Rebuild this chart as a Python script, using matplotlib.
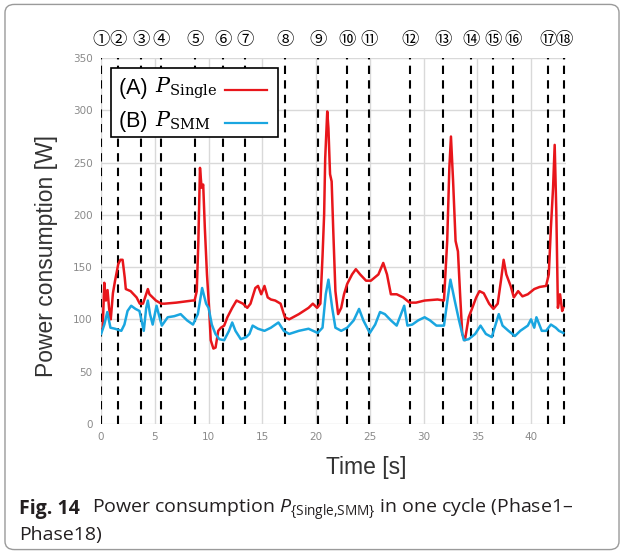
import matplotlib
matplotlib.use('Agg')
import matplotlib.pyplot as plt
from matplotlib.patches import FancyBboxPatch, Rectangle

plt.rcParams['mathtext.fontset'] = 'custom'
plt.rcParams['mathtext.rm'] = 'Open Sans'
plt.rcParams['mathtext.it'] = 'Open Sans:italic'
plt.rcParams['mathtext.bf'] = 'Open Sans:bold'

# phase boundaries [s]
phase_t = [0, 1.6, 3.7, 5.6, 8.7, 11.35, 13.37, 17.15, 20.2, 22.85, 24.95,
           28.77, 31.8, 34.42, 36.45, 38.36, 41.55, 43.06]
phase_labels = [chr(0x2460 + i) for i in range(18)]

# (A) P_Single
single_t = [0, 0.15, 0.3, 0.45, 0.6, 0.75, 0.9, 1.1, 1.3, 1.6, 1.8, 2.0, 2.2,
            2.3, 2.75, 3.3, 3.6, 3.9, 4.35, 4.5, 4.8, 5.1, 5.6, 5.9, 7.0, 8.5,
            8.7, 8.9, 9.05, 9.2, 9.35, 9.5, 9.65, 9.85, 10.05, 10.2, 10.45,
            10.65, 10.9, 11.15, 11.45, 11.75, 12.2, 12.6, 13.2, 13.6, 13.9,
            14.35, 14.6, 14.9, 15.2, 15.5, 15.8, 16.2, 16.7, 17.1, 17.5, 18.4,
            19.3, 19.7, 20.1, 20.4, 20.6, 20.75, 20.85, 21.04, 21.15, 21.3,
            21.45, 21.6, 21.8, 22.05, 22.34, 22.6, 22.9, 23.35, 23.7, 24.1,
            24.65, 25.1, 25.8, 26.25, 26.6, 26.96, 27.5, 28.1, 28.7, 29.3,
            30.1, 31.3, 31.9, 32.2, 32.4, 32.55, 32.75, 32.98, 33.2, 33.4,
            33.6, 33.85, 34.2, 34.5, 34.9, 35.2, 35.6, 36.1, 36.5, 36.9, 37.2,
            37.45, 37.7, 38.1, 38.4, 38.8, 39.2, 39.7, 40.3, 40.8, 41.4, 41.65,
            41.85, 42.05, 42.2, 42.35, 42.5, 42.7, 42.9, 43.0]
single_p = [89, 92, 135, 118, 128, 110, 100, 125, 137, 153, 157, 157, 140,
            129, 127, 121, 115, 115, 129, 124, 121, 118, 115, 115, 116, 118,
            118, 127, 175, 245, 226, 229, 188, 143, 111, 80, 72,
            73, 89, 92, 94, 102, 111, 118, 115, 111, 115,
            130, 132, 124, 132, 121, 119, 118, 115, 102, 100, 105,
            111, 115, 111, 115, 160, 200, 254, 299, 283, 239,
            232, 185, 127, 105, 111, 124, 134, 143, 148, 143,
            137, 137, 143, 154, 143, 124, 124, 121, 116, 116,
            118, 119, 118, 175, 245, 275, 232, 175, 165, 124,
            86, 80, 102, 110, 121, 127, 125, 115, 110, 115, 137,
            157, 143, 132, 121, 127, 122, 124, 129, 131, 132, 143,
            188, 226, 267, 204, 111, 124, 108, 111]

# (B) P_SMM
smm_t = [0, 0.3, 0.58, 0.87, 1.3, 1.88, 2.17, 2.46, 2.8, 3.2, 3.57, 3.97,
         4.2, 4.35, 4.55, 4.8, 5.16, 5.36, 5.65, 6.2, 6.8, 7.4, 8.0, 8.55,
         9.0, 9.4, 9.77, 10.0, 10.3, 10.64, 11.0, 11.45, 11.9, 12.2, 12.5,
         13.0, 13.5, 13.8, 14.1, 14.6, 15.2, 15.8, 16.5, 17.0, 17.5, 18.4,
         19.3, 20.15, 20.6, 20.9, 21.15, 21.5, 21.8, 22.34, 22.9, 23.5, 24.0,
         24.4, 25.0, 25.5, 25.95, 26.4, 26.96, 27.5, 28.2, 28.5, 28.95, 29.5,
         30.1, 30.6, 31.2, 31.9, 32.3, 32.5, 32.9, 33.3, 33.75, 34.2, 34.8,
         35.3, 35.8, 36.35, 36.7, 37.0, 37.35, 37.9, 38.5, 39.0, 39.7, 40.0,
         40.3, 40.5, 41.0, 41.4, 41.85, 42.3, 42.6, 43.0]
smm_p = [86, 95, 107, 92, 91, 89, 95, 108, 113, 110, 108, 89,
         111, 118, 105, 95, 113, 105, 94, 102, 103, 105, 99, 95,
         105, 130, 115, 111, 95, 86, 81, 80, 89, 97, 89,
         81, 83, 86, 94, 91, 89, 92, 97, 89, 86, 89,
         91, 87, 92, 124, 138, 111, 92, 89, 92, 99, 110,
         99, 87, 95, 107, 105, 99, 94, 113, 94, 95, 99,
         102, 99, 94, 94, 124, 138, 118, 99, 80, 81, 86,
         94, 86, 83, 95, 105, 94, 89, 84, 89, 94, 100,
         92, 102, 89, 89, 95, 92, 89, 87]

red = '#e8161b'
blue = '#1aa6e0'

fig = plt.figure(figsize=(6.24, 5.54), dpi=100)
fig.patches.append(FancyBboxPatch((0.008, 0.008), 0.984, 0.984,
                                  boxstyle='round,pad=0,rounding_size=0.015',
                                  transform=fig.transFigure, fill=False,
                                  edgecolor='#9a9a9a', linewidth=1.0))

ax = fig.add_axes([0.162, 0.235, 0.745, 0.66])
ax.plot(single_t, single_p, color=red, linewidth=1.8, zorder=3)
ax.plot(smm_t, smm_p, color=blue, linewidth=1.8, zorder=3)

for t in phase_t:
    ax.axvline(t, color='black', linewidth=1.5, linestyle=(0, (4, 3)), zorder=2)
for t, lab in zip(phase_t, phase_labels):
    ax.text(t, 367, lab, ha='center', va='center', fontsize=12.5,
            family=['Noto Sans CJK JP', 'DejaVu Sans'], clip_on=False)

ax.set_xlim(0, 43.25)
ax.set_ylim(0, 350)
ax.set_xticks(range(0, 45, 5))
ax.set_yticks(range(0, 351, 50))
ax.grid(color='#d9d9d9', linewidth=1.0)
ax.set_axisbelow(True)
for s in ax.spines.values():
    s.set_visible(False)
ax.tick_params(length=0, labelsize=7.5, labelcolor='#8a8a8a', pad=6)

ax.set_xlabel('Time [s]', fontsize=16.5, family='Liberation Sans',
              color='#333333')
ax.xaxis.set_label_coords(0.57, -0.088)
ax.set_ylabel('Power consumption [W]', fontsize=16.5, family='Liberation Sans',
              color='#333333')
ax.yaxis.set_label_coords(-0.092, 0.459)

# legend box, drawn by hand so labels stay left-aligned with handles on the right
ax.add_patch(Rectangle((0.0215, 0.784), 0.36, 0.189, transform=ax.transAxes,
                       facecolor='white', edgecolor='black', linewidth=1.2,
                       zorder=5))
leg_rows = [(r'(A) ', r'$P_{\mathrm{Single}}$', red, 0.918),
            (r'(B) ', r'$P_{\mathrm{SMM}}$', blue, 0.828)]
for tag, sym, col, yy in leg_rows:
    ax.text(0.038, yy, tag, transform=ax.transAxes, fontsize=15.5,
            family='Liberation Sans', va='center', zorder=6)
    ax.text(0.115, yy, sym, transform=ax.transAxes, fontsize=15,
            math_fontfamily='dejavuserif', va='center', zorder=6)
    ax.plot([0.267, 0.357], [yy - 0.005, yy - 0.005], transform=ax.transAxes,
            color=col, linewidth=1.6, zorder=6)

# caption: bold figure number, then the rest right after it
cap_y = 0.072
fig_no = fig.text(0.03, cap_y, 'Fig. 14', fontsize=14, fontweight='bold',
                  family='Open Sans', va='baseline', color='#231f20')
renderer = fig.canvas.get_renderer()
bb = fig_no.get_window_extent(renderer).transformed(fig.transFigure.inverted())
fig.text(bb.x1 + 0.02, cap_y,
         r'Power consumption $P_{\{\mathrm{Single}{,}\mathrm{SMM}\}}$'
         r' in one cycle (Phase1–',
         fontsize=14, family='Open Sans', va='baseline', color='#231f20')
fig.text(0.03, 0.025, 'Phase18)', fontsize=14, family='Open Sans',
         va='baseline', color='#231f20')

fig.savefig('out.png', dpi=100)
